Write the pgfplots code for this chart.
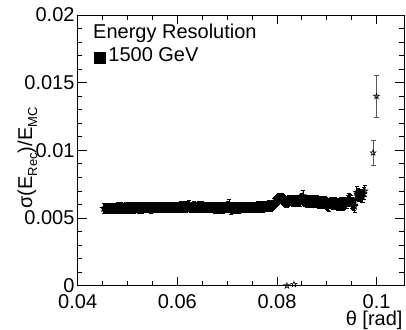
\documentclass[border=0pt]{standalone}
\usepackage{fontspec}
\setmainfont{Liberation Sans}
\usepackage{pgfplots}
\usepackage{pgfplotstable}
\pgfplotsset{compat=1.18}
\pgfdeclareplotmark{ostar}{%
 \pgfpathmoveto{\pgfpoint{0pt}{\pgfplotmarksize}}%
 \pgfpathlineto{\pgfpoint{0.2245\pgfplotmarksize}{0.309\pgfplotmarksize}}%
 \pgfpathlineto{\pgfpoint{0.951\pgfplotmarksize}{0.309\pgfplotmarksize}}%
 \pgfpathlineto{\pgfpoint{0.363\pgfplotmarksize}{-0.118\pgfplotmarksize}}%
 \pgfpathlineto{\pgfpoint{0.588\pgfplotmarksize}{-0.809\pgfplotmarksize}}%
 \pgfpathlineto{\pgfpoint{0pt}{-0.382\pgfplotmarksize}}%
 \pgfpathlineto{\pgfpoint{-0.588\pgfplotmarksize}{-0.809\pgfplotmarksize}}%
 \pgfpathlineto{\pgfpoint{-0.363\pgfplotmarksize}{-0.118\pgfplotmarksize}}%
 \pgfpathlineto{\pgfpoint{-0.951\pgfplotmarksize}{0.309\pgfplotmarksize}}%
 \pgfpathlineto{\pgfpoint{-0.2245\pgfplotmarksize}{0.309\pgfplotmarksize}}%
 \pgfpathclose
 \pgfusepathqstroke}
\newcommand{\sub}[1]{\raisebox{-5bp}{\fontsize{13bp}{13bp}\selectfont #1}}
\pgfplotstableread{
x y e
0.0452 0.00570 0.00036
0.0456 0.00575 0.00035
0.0460 0.00569 0.00036
0.0464 0.00577 0.00035
0.0468 0.00572 0.00036
0.0472 0.00576 0.00035
0.0476 0.00570 0.00036
0.0480 0.00578 0.00035
0.0484 0.00573 0.00036
0.0488 0.00577 0.00035
0.0492 0.00571 0.00036
0.0496 0.00579 0.00035
0.0500 0.00574 0.00036
0.0504 0.00578 0.00035
0.0508 0.00572 0.00036
0.0512 0.00580 0.00035
0.0516 0.00575 0.00036
0.0520 0.00581 0.00035
0.0524 0.00573 0.00036
0.0528 0.00579 0.00035
0.0532 0.00575 0.00036
0.0536 0.00582 0.00035
0.0540 0.00576 0.00036
0.0544 0.00580 0.00035
0.0548 0.00574 0.00036
0.0552 0.00582 0.00035
0.0556 0.00577 0.00036
0.0560 0.00583 0.00035
0.0564 0.00575 0.00036
0.0568 0.00581 0.00035
0.0572 0.00577 0.00036
0.0576 0.00583 0.00035
0.0580 0.00578 0.00036
0.0584 0.00584 0.00035
0.0588 0.00576 0.00036
0.0592 0.00582 0.00035
0.0596 0.00578 0.00036
0.0600 0.00584 0.00035
0.0604 0.00579 0.00036
0.0608 0.00585 0.00035
0.0612 0.00577 0.00036
0.0616 0.00583 0.00035
0.0620 0.00586 0.00036
0.0624 0.00592 0.00037
0.0628 0.00580 0.00036
0.0632 0.00576 0.00035
0.0636 0.00583 0.00036
0.0640 0.00579 0.00035
0.0644 0.00585 0.00036
0.0648 0.00578 0.00035
0.0652 0.00583 0.00036
0.0656 0.00579 0.00035
0.0660 0.00576 0.00036
0.0664 0.00582 0.00035
0.0668 0.00575 0.00036
0.0672 0.00580 0.00035
0.0676 0.00574 0.00036
0.0680 0.00580 0.00035
0.0684 0.00573 0.00036
0.0688 0.00579 0.00035
0.0692 0.00572 0.00036
0.0696 0.00578 0.00035
0.0700 0.00580 0.00038
0.0704 0.00595 0.00040
0.0708 0.00566 0.00038
0.0712 0.00576 0.00036
0.0716 0.00571 0.00035
0.0720 0.00578 0.00036
0.0724 0.00573 0.00035
0.0728 0.00579 0.00036
0.0732 0.00575 0.00035
0.0736 0.00580 0.00036
0.0740 0.00576 0.00035
0.0744 0.00581 0.00036
0.0748 0.00577 0.00035
0.0752 0.00582 0.00036
0.0756 0.00578 0.00035
0.0760 0.00583 0.00036
0.0764 0.00579 0.00035
0.0768 0.00584 0.00036
0.0772 0.00580 0.00035
0.0776 0.00585 0.00036
0.0780 0.00586 0.00036
0.0784 0.00594 0.00036
0.0788 0.00584 0.00036
0.0792 0.00598 0.00036
0.0796 0.00614 0.00037
0.0800 0.00630 0.00037
0.0804 0.00642 0.00037
0.0808 0.00648 0.00037
0.0812 0.00640 0.00037
0.0816 0.00620 0.00037
0.0820 0.00614 0.00037
0.0824 0.00628 0.00037
0.0828 0.00634 0.00037
0.0832 0.00626 0.00037
0.0836 0.00634 0.00037
0.0840 0.00624 0.00037
0.0844 0.00632 0.00037
0.0848 0.00636 0.00038
0.0852 0.00665 0.00040
0.0856 0.00624 0.00038
0.0860 0.00620 0.00038
0.0864 0.00630 0.00038
0.0868 0.00618 0.00038
0.0872 0.00628 0.00038
0.0876 0.00616 0.00038
0.0880 0.00626 0.00038
0.0884 0.00614 0.00039
0.0888 0.00624 0.00039
0.0892 0.00610 0.00039
0.0896 0.00620 0.00039
0.0900 0.00606 0.00039
0.0904 0.00588 0.00040
0.0908 0.00614 0.00039
0.0912 0.00604 0.00039
0.0916 0.00616 0.00039
0.0920 0.00602 0.00040
0.0924 0.00594 0.00040
0.0928 0.00612 0.00040
0.0932 0.00600 0.00040
0.0936 0.00610 0.00040
0.0940 0.00614 0.00040
0.0944 0.00638 0.00041
0.0948 0.00624 0.00041
0.0952 0.00605 0.00042
0.0956 0.00585 0.00042
0.0960 0.00690 0.00042
0.0964 0.00662 0.00042
0.0968 0.00672 0.00042
0.0972 0.00655 0.00042
0.0976 0.00700 0.00043
}\bandtable
\pgfplotstableread{
x y e
0.0454 0.00573 0.00035
0.0458 0.00570 0.00036
0.0462 0.00575 0.00035
0.0466 0.00571 0.00036
0.0470 0.00577 0.00035
0.0474 0.00573 0.00036
0.0478 0.00576 0.00035
0.0482 0.00571 0.00036
0.0486 0.00578 0.00035
0.0490 0.00574 0.00036
0.0494 0.00577 0.00035
0.0498 0.00572 0.00036
0.0502 0.00579 0.00035
0.0506 0.00575 0.00036
0.0510 0.00578 0.00035
0.0514 0.00574 0.00036
0.0518 0.00580 0.00035
0.0522 0.00576 0.00036
0.0526 0.00581 0.00035
0.0530 0.00574 0.00036
0.0534 0.00580 0.00035
0.0538 0.00576 0.00036
0.0542 0.00582 0.00035
0.0546 0.00577 0.00036
0.0550 0.00580 0.00035
0.0554 0.00575 0.00036
0.0558 0.00581 0.00035
0.0562 0.00578 0.00036
0.0566 0.00583 0.00035
0.0570 0.00576 0.00036
0.0574 0.00582 0.00035
0.0578 0.00577 0.00036
0.0582 0.00583 0.00035
0.0586 0.00579 0.00036
0.0590 0.00584 0.00035
0.0594 0.00577 0.00036
0.0598 0.00583 0.00035
0.0602 0.00578 0.00036
0.0606 0.00584 0.00035
0.0610 0.00580 0.00036
0.0614 0.00585 0.00035
0.0618 0.00578 0.00036
0.0622 0.00588 0.00036
0.0626 0.00583 0.00036
0.0630 0.00579 0.00035
0.0634 0.00585 0.00036
0.0638 0.00577 0.00035
0.0642 0.00582 0.00036
0.0646 0.00580 0.00035
0.0650 0.00584 0.00036
0.0654 0.00577 0.00035
0.0658 0.00581 0.00036
0.0662 0.00578 0.00035
0.0666 0.00580 0.00036
0.0670 0.00577 0.00035
0.0674 0.00579 0.00036
0.0678 0.00575 0.00035
0.0682 0.00578 0.00036
0.0686 0.00574 0.00035
0.0690 0.00577 0.00036
0.0694 0.00575 0.00035
0.0698 0.00579 0.00036
0.0702 0.00584 0.00038
0.0706 0.00578 0.00039
0.0710 0.00573 0.00036
0.0714 0.00578 0.00035
0.0718 0.00574 0.00036
0.0722 0.00579 0.00035
0.0726 0.00576 0.00036
0.0730 0.00580 0.00035
0.0734 0.00577 0.00036
0.0738 0.00582 0.00035
0.0742 0.00578 0.00036
0.0746 0.00583 0.00035
0.0750 0.00579 0.00036
0.0754 0.00584 0.00035
0.0758 0.00580 0.00036
0.0762 0.00585 0.00035
0.0766 0.00581 0.00036
0.0770 0.00586 0.00035
0.0774 0.00582 0.00036
0.0778 0.00588 0.00036
0.0782 0.00590 0.00036
0.0786 0.00587 0.00036
0.0790 0.00590 0.00036
0.0794 0.00605 0.00037
0.0798 0.00622 0.00037
0.0802 0.00636 0.00037
0.0806 0.00645 0.00037
0.0810 0.00644 0.00037
0.0814 0.00630 0.00037
0.0818 0.00616 0.00037
0.0822 0.00622 0.00037
0.0826 0.00630 0.00037
0.0830 0.00632 0.00037
0.0834 0.00630 0.00037
0.0838 0.00628 0.00037
0.0842 0.00630 0.00037
0.0846 0.00626 0.00038
0.0850 0.00640 0.00039
0.0854 0.00632 0.00039
0.0858 0.00626 0.00038
0.0862 0.00622 0.00038
0.0866 0.00626 0.00038
0.0870 0.00620 0.00038
0.0874 0.00624 0.00038
0.0878 0.00620 0.00038
0.0882 0.00622 0.00039
0.0886 0.00618 0.00039
0.0890 0.00620 0.00039
0.0894 0.00614 0.00039
0.0898 0.00612 0.00039
0.0902 0.00600 0.00040
0.0906 0.00608 0.00039
0.0910 0.00610 0.00039
0.0914 0.00606 0.00039
0.0918 0.00608 0.00040
0.0922 0.00600 0.00040
0.0926 0.00604 0.00040
0.0930 0.00606 0.00040
0.0934 0.00604 0.00040
0.0938 0.00608 0.00040
0.0942 0.00626 0.00041
0.0946 0.00632 0.00041
0.0950 0.00612 0.00042
0.0954 0.00596 0.00042
0.0958 0.00640 0.00042
0.0962 0.00676 0.00042
0.0966 0.00668 0.00042
0.0970 0.00660 0.00042
0.0974 0.00680 0.00043
}\bandtableb
\pgfplotstableread{
x y e
0.0993 0.00982 0.00093
0.09998 0.01400 0.00156
}\hightable
\pgfplotstableread{
x y
0.0820 0.00000
0.0834 0.00010
}\zerotable
\begin{document}
\begin{tikzpicture}
\useasboundingbox (-77.7bp,-44.3bp) rectangle (328.3bp,285.7bp);
\begin{axis}[
  at={(0,0)}, anchor=south west,
  scale only axis, width=326.3bp, height=270.7bp,
  xmin=0.04, xmax=0.1055, ymin=0, ymax=0.02,
  clip=false,
  scaled x ticks=false, scaled y ticks=false,
  xtick={0.04,0.06,0.08,0.1}, xticklabels={0.04,0.06,0.08,0.1},
  minor x tick num=3,
  ytick={0,0.005,0.01,0.015,0.02}, yticklabels={0,0.005,0.01,0.015,0.02},
  minor y tick num=4,
  tick align=inside, major tick length=9bp, minor tick length=4.5bp,
  axis line style={line width=0.9bp},
  every tick/.style={black, line width=0.8bp},
  tick label style={font=\fontsize{20bp}{24bp}\selectfont, inner sep=0pt},
  xticklabel style={yshift=-8.7bp},
  yticklabel style={xshift=-3bp},
  xlabel={θ [rad]},
  xlabel style={at={(rel axis cs:1,0)}, anchor=base east, yshift=-40bp, xshift=-1.3bp, inner sep=0pt, font=\fontsize{20bp}{24bp}\selectfont},
  ylabel={σ(E\sub{Rec})/E\sub{MC}},
  ylabel style={at={(rel axis cs:-0.140,0.4717)}, anchor=base, inner sep=0pt, font=\fontsize{20bp}{24bp}\selectfont},
  legend style={at={(rel axis cs:0.05,0.878)}, anchor=north west, draw=none, fill=none, inner sep=0pt, outer sep=0pt, nodes={inner sep=0pt}, font=\fontsize{20bp}{24bp}\selectfont, column sep=3bp},
]
\addlegendimage{legend image code/.code={\fill[black] (0bp,-7.8bp) rectangle (11bp,3.9bp);}}
\addlegendentry{1500 GeV}
\addplot[only marks, mark=ostar, mark size=3bp, mark options={line width=0.8bp, black},
  error bars/.cd, y dir=both, y explicit, error mark options={rotate=90, mark size=2bp, line width=0.7bp, black},
  error bar style={line width=0.7bp, black}] table[x=x, y=y, y error=e] {\bandtable};
\addplot[only marks, mark=ostar, mark size=3bp, mark options={line width=0.8bp, black},
  error bars/.cd, y dir=both, y explicit, error mark options={rotate=90, mark size=2bp, line width=0.7bp, black},
  error bar style={line width=0.7bp, black}] table[x=x, y=y, y error=e] {\bandtableb};
\addplot[only marks, mark=ostar, mark size=3bp, mark options={line width=0.6bp, black},
  error bars/.cd, y dir=both, y explicit, error mark options={rotate=90, mark size=2.5bp, line width=0.8bp, black!65},
  error bar style={line width=0.8bp, black!65}] table[x=x, y=y, y error=e] {\hightable};
\addplot[only marks, mark=ostar, mark size=3bp, mark options={line width=0.6bp, black}] table[x=x, y=y] {\zerotable};
\node[anchor=base west, inner sep=0pt, font=\fontsize{20bp}{24bp}\selectfont] at (rel axis cs:0.0469,0.9139) {Energy Resolution};
\end{axis}
\end{tikzpicture}
\end{document}
